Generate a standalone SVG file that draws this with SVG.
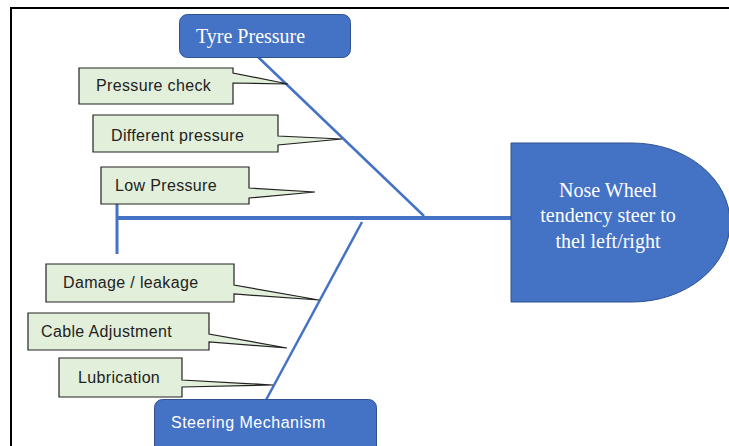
<svg xmlns="http://www.w3.org/2000/svg" width="729" height="446" viewBox="0 0 729 446">
<style>
.cause{fill:#E2EFDA;stroke:#222;stroke-width:1.2;stroke-linejoin:miter}
.ctext{font-family:"Liberation Sans",Arial,sans-serif;font-size:16px;letter-spacing:0.35px;fill:#222}
.cat{fill:#4472C4;stroke:#2F528F;stroke-width:1}
.serif{font-family:"Liberation Serif","Times New Roman",serif;font-size:20px;fill:#fff}
.bone{stroke:#4472C4;fill:none;stroke-linecap:butt}
</style>
<rect x="0" y="0" width="729" height="446" fill="#fff"/>
<g id="frame" stroke="#000" stroke-width="2" fill="none">
<line x1="10" y1="8" x2="729" y2="8"/>
<line x1="11" y1="7" x2="11" y2="446"/>
</g>
<g id="connectors">
<line class="bone" x1="117" y1="218" x2="512" y2="218" stroke-width="4"/>
<line class="bone" x1="117" y1="204" x2="117" y2="254" stroke-width="3"/>
<line class="bone" x1="258" y1="57" x2="424" y2="216" stroke-width="2.5"/>
<line class="bone" x1="362" y1="222" x2="266" y2="400" stroke-width="2.5"/>
</g>
<g id="head">
<path d="M511,143 H632 A98,79.5 0 0 1 632,302 H511 Z" fill="#4472C4" stroke="#2F528F" stroke-width="1"/>
<text class="serif" x="608" y="197" text-anchor="middle">Nose Wheel</text>
<text class="serif" x="608" y="222" text-anchor="middle">tendency steer to</text>
<text class="serif" x="608" y="248" text-anchor="middle">thel left/right</text>
</g>
<g id="tyre-pressure">
<rect class="cat" x="179.5" y="14.5" width="171" height="43" rx="8"/>
<text class="serif" x="196" y="43">Tyre Pressure</text>
</g>
<g id="steering-mechanism">
<rect class="cat" x="154.5" y="399.5" width="222" height="60" rx="8"/>
<text x="171" y="428" font-family="'Liberation Sans',Arial,sans-serif" font-size="16" letter-spacing="0.5" fill="#fff">Steering Mechanism</text>
</g>
<g id="pressure-check">
<path class="cause" d="M79,68 H233 V73 L288,84 L233,83 V104 H79 Z"/>
<text class="ctext" x="96" y="91">Pressure check</text>
</g>
<g id="different-pressure">
<path class="cause" d="M93,115 H278 V136 L342,139 L278,145 V152 H93 Z"/>
<text class="ctext" x="111" y="141">Different pressure</text>
</g>
<g id="low-pressure">
<path class="cause" d="M101,167 H249 V188 L315,192 L249,198 V204 H101 Z"/>
<text class="ctext" x="115" y="191">Low Pressure</text>
</g>
<g id="damage-leakage">
<path class="cause" d="M46,264 H234 V285 L319,300 L234,294 V302 H46 Z"/>
<text class="ctext" x="63" y="288">Damage / leakage</text>
</g>
<g id="cable-adjustment">
<path class="cause" d="M28,313 H209 V334 L287,348 L209,342 V350 H28 Z"/>
<text class="ctext" x="41" y="337">Cable Adjustment</text>
</g>
<g id="lubrication">
<path class="cause" d="M59,358 H182 V380 L273,385 L182,387 V397 H59 Z"/>
<text class="ctext" x="78" y="383">Lubrication</text>
</g>
</svg>
